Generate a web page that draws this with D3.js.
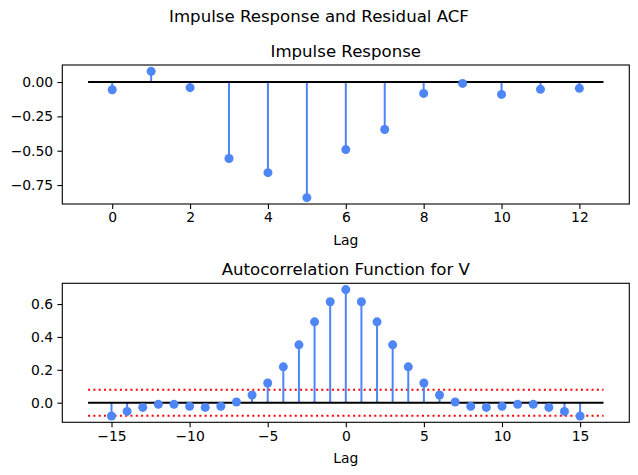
<!DOCTYPE html>
<html lang="en">
<head>
<meta charset="UTF-8">
<title>Impulse Response and Residual ACF</title>
<script src="https://cdn.jsdelivr.net/npm/d3@7"></script>
<style>
    body { margin: 0; background: #fff; }
    svg text { font-family: "DejaVu Sans", sans-serif; fill: #000; }
</style>
</head>
<body>
<div id="chart"></div>
<script>
    // impulse response weights
    const irfLags = [0, 1, 2, 3, 4, 5, 6, 7, 8, 9, 10, 11, 12]
    const irfValues = [-0.056, 0.078, -0.041, -0.557, -0.660, -0.842, -0.492, -0.346, -0.083, -0.010, -0.090, -0.053, -0.046]
    const irfXTicks = [0, 2, 4, 6, 8, 10, 12]
    const irfYTicks = [0, -0.25, -0.5, -0.75]

    // residual ACF, lags -15..15
    const acfLags = d3.range(-15, 16)
    const acfHalf = [0.688, 0.614, 0.492, 0.352, 0.218, 0.120, 0.047, 0.004, -0.022, -0.029, -0.022, -0.010, -0.010, -0.029, -0.053, -0.081]
    const acfValues = acfLags.map(l => acfHalf[Math.abs(l)])
    const acfBand = 0.079
    const acfXTicks = [-15, -10, -5, 0, 5, 10, 15]
    const acfYTicks = [0, 0.2, 0.4, 0.6]

    const W = 638, H = 475
    const stemColor = "#4f86f6"
    const minus = s => s.replace("-", "\u2212")

    const svg = d3.select("#chart").append("svg")
        .attr("width", W).attr("height", H)
        .attr("viewBox", [0, 0, W, H])

    svg.append("text")
        .attr("x", W / 2).attr("y", 22)
        .attr("text-anchor", "middle")
        .attr("font-size", "16.6px")
        .text("Impulse Response and Residual ACF")

    function padded(lo, hi) {
        const m = (hi - lo) * 0.05
        return [lo - m, hi + m]
    }

    function stemPanel(opt) {
        const box = opt.box
        const x = d3.scaleLinear().domain(padded(opt.xLine[0], opt.xLine[1])).range([box.left, box.right])
        const yExt = d3.extent(opt.values.concat(opt.band ? [opt.band, -opt.band] : []))
        const y = d3.scaleLinear().domain(padded(Math.min(yExt[0], 0), Math.max(yExt[1], 0))).range([box.bottom, box.top])
        const g = svg.append("g")

        // x axis
        g.append("g")
            .attr("transform", `translate(0,${box.bottom})`)
            .call(d3.axisBottom(x).tickValues(opt.xTicks).tickSize(4.9).tickPadding(3.5).tickFormat(d => minus(String(d))))
            .call(a => a.select(".domain").remove())
            .call(a => a.selectAll("line").attr("stroke-width", 1.1))
            .call(a => a.selectAll("text").attr("font-size", "13.9px").attr("font-family", "DejaVu Sans"))

        // y axis
        g.append("g")
            .attr("transform", `translate(${box.left},0)`)
            .call(d3.axisLeft(y).tickValues(opt.yTicks).tickSize(4.9).tickPadding(4.2).tickFormat(d => minus(d3.format(opt.yFmt)(d))))
            .call(a => a.select(".domain").remove())
            .call(a => a.selectAll("line").attr("stroke-width", 1.1))
            .call(a => a.selectAll("text").attr("font-size", "13.9px").attr("font-family", "DejaVu Sans"))

        // confidence band
        if (opt.band) {
            [opt.band, -opt.band].forEach(v => {
                g.append("line")
                    .attr("x1", x(opt.xLine[0])).attr("x2", x(opt.xLine[1]))
                    .attr("y1", y(v)).attr("y2", y(v))
                    .attr("stroke", "red").attr("stroke-width", 2)
                    .attr("stroke-dasharray", "2,3.3")
            })
        }

        // stems
        g.selectAll(".stem").data(opt.lags).enter().append("line")
            .attr("x1", d => x(d)).attr("x2", d => x(d))
            .attr("y1", y(0)).attr("y2", (d, i) => y(opt.values[i]))
            .attr("stroke", stemColor).attr("stroke-width", 2)

        // baseline
        g.append("line")
            .attr("x1", x(opt.xLine[0])).attr("x2", x(opt.xLine[1]))
            .attr("y1", y(0)).attr("y2", y(0))
            .attr("stroke", "#000").attr("stroke-width", 2)

        // markers
        g.selectAll(".mark").data(opt.lags).enter().append("circle")
            .attr("cx", d => x(d)).attr("cy", (d, i) => y(opt.values[i]))
            .attr("r", 4.5).attr("fill", stemColor)

        // frame
        g.append("rect")
            .attr("x", box.left).attr("y", box.top)
            .attr("width", box.right - box.left).attr("height", box.bottom - box.top)
            .attr("fill", "none").attr("stroke", "#000").attr("stroke-width", 1.1)

        g.append("text")
            .attr("x", (box.left + box.right) / 2).attr("y", box.top - 8)
            .attr("text-anchor", "middle").attr("font-size", "16.6px")
            .text(opt.title)

        g.append("text")
            .attr("x", (box.left + box.right) / 2).attr("y", opt.labelY)
            .attr("text-anchor", "middle").attr("font-size", "13.9px")
            .text("Lag")
    }

    stemPanel({
        box: {left: 62.3, right: 629.3, top: 65, bottom: 204},
        lags: irfLags, values: irfValues, xLine: [-0.62, 12.62],
        xTicks: irfXTicks, yTicks: irfYTicks, yFmt: ".2f",
        title: "Impulse Response", labelY: 245
    })

    stemPanel({
        box: {left: 62.3, right: 629.3, top: 283.3, bottom: 422.3},
        lags: acfLags, values: acfValues, xLine: [-16.5, 16.5], band: acfBand,
        xTicks: acfXTicks, yTicks: acfYTicks, yFmt: ".1f",
        title: "Autocorrelation Function for V", labelY: 463
    })
</script>
</body>
</html>
